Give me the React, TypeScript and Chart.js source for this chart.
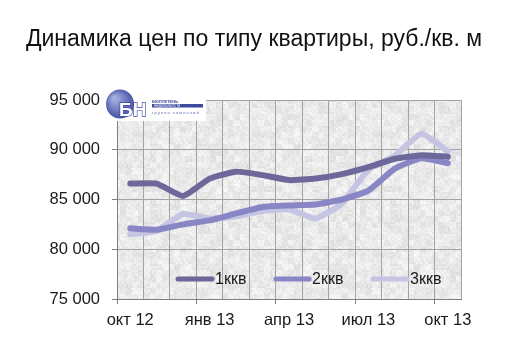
import React, { useEffect, useRef } from 'react';
import { Chart, registerables } from 'chart.js';

Chart.register(...registerables);

const TITLE = 'Динамика цен по типу квартиры, руб./кв. м';
const categories = ['окт 12', 'ноя 12', 'дек 12', 'янв 13', 'фев 13', 'мар 13', 'апр 13', 'май 13', 'июн 13', 'июл 13', 'авг 13', 'сен 13', 'окт 13'];
const seriesNames = ['1ккв', '2ккв', '3ккв'];
const series1 = [86600, 86600, 85350, 87100, 87800, 87450, 86950, 87100, 87550, 88250, 89100, 89450, 89300];
const series2 = [82100, 81950, 82500, 82900, 83600, 84250, 84400, 84500, 85000, 85900, 88100, 89150, 88650];
const series3 = [81500, 81850, 83550, 83100, 83300, 83850, 84000, 83100, 84600, 88000, 89400, 91600, 89850];
const yTicks = [75000, 80000, 85000, 90000, 95000];
const colors = ['#6d6899', '#8986c5', '#c6c4e3'];

const FONT = "'Liberation Sans', Arial, sans-serif";

function hash(x: number, y: number) {
  let h = (x * 374761393 + y * 668265263) | 0;
  h = (h ^ (h >>> 13)) * 1274126177;
  h = h ^ (h >>> 16);
  return ((h >>> 0) % 1000) / 1000;
}

function makePattern(ctx: CanvasRenderingContext2D) {
  const S = 120;
  const c = document.createElement('canvas');
  c.width = S;
  c.height = S;
  const g = c.getContext('2d')!;
  const img = g.createImageData(S, S);
  for (let y = 0; y < S; y++) {
    for (let x = 0; x < S; x++) {
      const a = hash(Math.floor(x / 2), Math.floor(y / 2));
      const b = hash(Math.floor(x / 6) + 500, Math.floor(y / 6) + 500);
      let v = 234 + (a - 0.5) * 14 + (b - 0.5) * 16;
      v = Math.max(200, Math.min(250, v));
      const i = (y * S + x) * 4;
      img.data[i] = v;
      img.data[i + 1] = v;
      img.data[i + 2] = v;
      img.data[i + 3] = 255;
    }
  }
  g.putImageData(img, 0, 0);
  return ctx.createPattern(c, 'repeat');
}

const bgPlugin = {
  id: 'bgTexture',
  beforeDraw(chart: any) {
    const { ctx, chartArea } = chart;
    ctx.save();
    ctx.fillStyle = '#ffffff';
    ctx.fillRect(0, 0, chart.width, chart.height);
    const p = makePattern(ctx);
    ctx.fillStyle = p || '#e8e8e8';
    ctx.fillRect(chartArea.left, chartArea.top, chartArea.right - chartArea.left, chartArea.bottom - chartArea.top);
    // title
    ctx.fillStyle = '#111111';
    ctx.font = `23px ${FONT}`;
    ctx.textAlign = 'center';
    ctx.textBaseline = 'alphabetic';
    ctx.fillText(TITLE, 254, 46);
    ctx.restore();
  },
};

const legendPlugin = {
  id: 'customLegend',
  afterDatasetsDraw(chart: any) {
    const { ctx } = chart;
    const y = 279;
    const items = [
      { x0: 178, x1: 212, tx: 215 },
      { x0: 276, x1: 309, tx: 312 },
      { x0: 373, x1: 407, tx: 410 },
    ];
    ctx.save();
    items.forEach((it, i) => {
      ctx.strokeStyle = colors[i];
      ctx.lineWidth = 5;
      ctx.lineCap = 'round';
      ctx.beginPath();
      ctx.moveTo(it.x0, y);
      ctx.lineTo(it.x1, y);
      ctx.stroke();
      ctx.fillStyle = '#1a1a1a';
      ctx.font = `16px ${FONT}`;
      ctx.textAlign = 'left';
      ctx.textBaseline = 'middle';
      ctx.fillText(seriesNames[i], it.tx, y + 1);
    });
    ctx.restore();
  },
  afterDraw(chart: any) {
    const { ctx } = chart;
    ctx.save();
    // white plate behind logo
    ctx.fillStyle = '#ffffff';
    ctx.fillRect(112, 95, 94, 26);
    // circle
    const grad = ctx.createRadialGradient(114, 98, 2, 120, 104, 16);
    grad.addColorStop(0, '#a2acdf');
    grad.addColorStop(1, '#3f4da0');
    ctx.fillStyle = grad;
    ctx.beginPath();
    ctx.ellipse(120, 104, 14, 14.5, 0, 0, Math.PI * 2);
    ctx.fill();
    // letters
    ctx.font = `bold 19px ${FONT}`;
    ctx.textBaseline = 'alphabetic';
    ctx.textAlign = 'left';
    ctx.lineWidth = 1.3;
    ctx.strokeStyle = '#3c4a9f';
    ctx.fillStyle = '#ffffff';
    ctx.strokeText('БН', 119, 116);
    ctx.fillText('БН', 119, 116);
    // small texts
    ctx.fillStyle = '#3c4a9f';
    ctx.font = `bold 4px ${FONT}`;
    ctx.fillText('БЮЛЛЕТЕНЬ', 152, 102.5);
    ctx.fillRect(152, 104, 51, 3.5);
    ctx.fillStyle = '#ffffff';
    ctx.font = `3px ${FONT}`;
    ctx.fillText('НЕДВИЖИМОСТИ', 154, 106.8);
    ctx.fillStyle = '#5a67ad';
    ctx.font = `4px ${FONT}`;
    ctx.fillText('г р у п п а   к о м п а н и й', 152, 114);
    ctx.restore();
  },
};

export default function App() {
  const ref = useRef<HTMLCanvasElement | null>(null);
  useEffect(() => {
    if (!ref.current) return;
    const data = [series1, series2, series3];
    const chart = new Chart(ref.current, {
      type: 'line',
      data: {
        labels: categories,
        datasets: data.map((d, i) => ({
          label: seriesNames[i],
          data: d,
          borderColor: colors[i],
          backgroundColor: colors[i],
          borderWidth: 6,
          pointRadius: 0,
          tension: 0.15,
          borderCapStyle: 'round' as const,
          borderJoinStyle: 'round' as const,
          fill: false,
        })),
      },
      options: {
        animation: false,
        responsive: false,
        events: [],
        layout: { padding: { left: 0, right: 49, top: 100, bottom: 0 } },
        plugins: {
          legend: { display: false },
          title: { display: false },
          tooltip: { enabled: false },
        },
        scales: {
          x: {
            type: 'category',
            offset: true,
            grid: {
              offset: true,
              color: '#a3a3a3',
              lineWidth: 1,
              drawTicks: true,
              tickLength: 5,
              tickColor: (ctx: any) => (typeof ctx.index === 'number' && ctx.index % 3 === 0 ? '#7f7f7f' : 'rgba(0,0,0,0)'),
            },
            border: { color: '#7f7f7f', width: 1 },
            ticks: {
              autoSkip: false,
              maxRotation: 0,
              minRotation: 0,
              padding: 7,
              color: '#1a1a1a',
              font: { family: FONT, size: 16.5 },
              callback: (_v: any, i: number) => (i % 3 === 0 ? categories[i] : ''),
            },
            afterFit: (s: any) => {
              s.height = 62;
            },
          },
          y: {
            min: 75000,
            max: 95000,
            afterBuildTicks: (s: any) => {
              s.ticks = yTicks.map((v) => ({ value: v }));
            },
            grid: { color: '#a3a3a3', lineWidth: 1, tickLength: 5, tickColor: '#7f7f7f' },
            border: { color: '#7f7f7f', width: 1 },
            ticks: {
              padding: 12,
              color: '#1a1a1a',
              font: { family: FONT, size: 16.5 },
              callback: (v: any) => {
                const n = Number(v);
                const th = Math.floor(n / 1000);
                const rest = String(n % 1000).padStart(3, '0');
                return `${th} ${rest}`;
              },
            },
            afterFit: (s: any) => {
              s.width = 117;
            },
          },
        },
      },
      plugins: [bgPlugin, legendPlugin],
    });
    return () => chart.destroy();
  }, []);
  return (
    <div style={{ position: 'fixed', left: 0, top: 0, width: 510, height: 361, background: '#fff' }}>
      <canvas ref={ref} width={510} height={361} style={{ display: 'block' }} />
    </div>
  );
}
